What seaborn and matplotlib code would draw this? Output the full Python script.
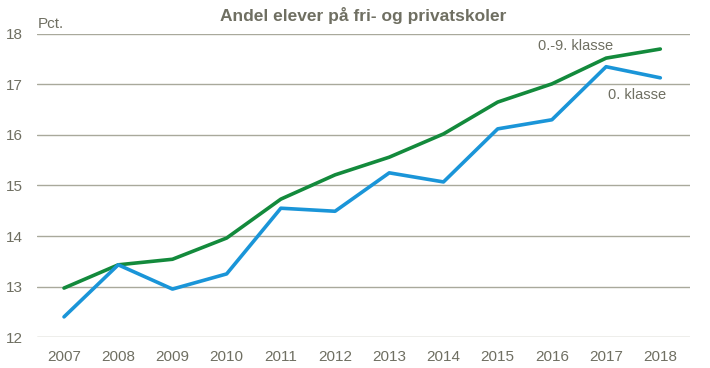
# Importing libraries
import numpy as np
import pandas as pd

# Importing visualizations
import matplotlib.pyplot as plt
import seaborn as sns

# Chart data
years = list(range(2007, 2019))
klasse_0_9 = [12.97, 13.43, 13.54, 13.96, 14.73, 15.21, 15.56, 16.02, 16.65, 17.01, 17.52, 17.70]
klasse_0 = [12.40, 13.43, 12.95, 13.25, 14.55, 14.49, 15.25, 15.07, 16.12, 16.30, 17.35, 17.13]
series_names = ['0.-9. klasse', '0. klasse']
y_ticks = [12, 13, 14, 15, 16, 17, 18]

df = pd.DataFrame({'År': years * 2,
                   'Pct': klasse_0_9 + klasse_0,
                   'Serie': [series_names[0]] * len(years) + [series_names[1]] * len(years)})

sns.set_style('white')
plt.rcParams['font.family'] = ['Liberation Sans Narrow', 'Liberation Sans', 'DejaVu Sans']

text_col = '#6f6f62'
grid_col = '#a9a99c'
palette = {series_names[0]: '#138a3c', series_names[1]: '#1a95d8'}

fig = plt.figure(figsize=(7.1, 3.68), dpi=100)
ax = fig.add_axes([0.052, 0.084, 0.92, 0.824])

sns.lineplot(data=df, x='År', y='Pct', hue='Serie', palette=palette,
             linewidth=2.6, legend=False, ax=ax)

ax.set_xlim(2006.5, 2018.55)
ax.set_ylim(12, 18)
ax.set_yticks(y_ticks)
ax.set_xticks(years)
ax.set_xticklabels([str(y) for y in years])
ax.yaxis.grid(True, color=grid_col, linewidth=1)
ax.xaxis.grid(False)
ax.set_axisbelow(True)
for s in ax.spines.values():
    s.set_visible(False)
ax.tick_params(axis='both', length=0, labelsize=11, colors=text_col)
ax.tick_params(axis='x', pad=9)
ax.tick_params(axis='y', pad=10)
ax.set_xlabel('')
ax.set_ylabel('')

fig.text(0.511, 0.958, 'Andel elever på fri- og privatskoler', ha='center', va='center',
         fontsize=12.5, fontweight='bold', color=text_col)
fig.text(0.053, 0.935, 'Pct.', ha='left', va='center', fontsize=11, color=text_col)

ax.text(2016.43, 17.76, series_names[0], ha='center', va='center', fontsize=10.5, color=text_col)
ax.text(2017.58, 16.79, series_names[1], ha='center', va='center', fontsize=10.5, color=text_col)

plt.savefig('out.png', dpi=100)
